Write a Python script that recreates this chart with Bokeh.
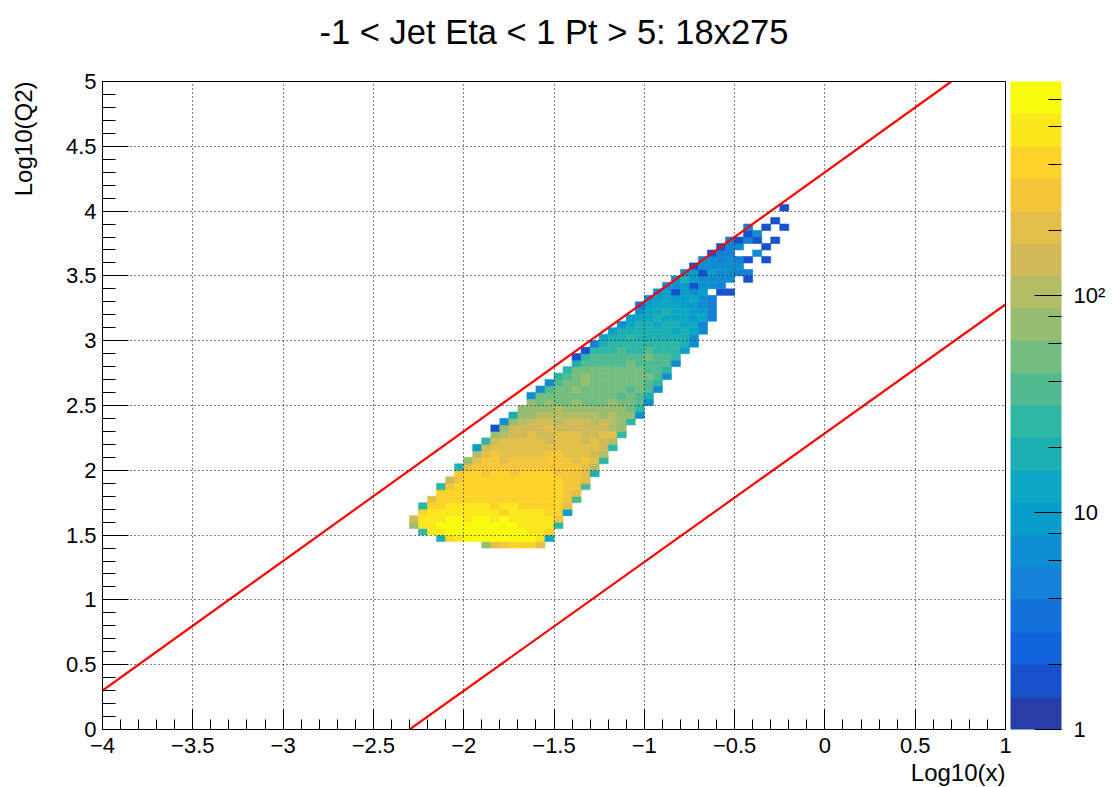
import numpy as np
from bokeh.plotting import figure
from bokeh.models import (Range1d, LogColorMapper, ColorBar, LogTicker,
                          SingleIntervalTicker, Title, ColumnDataSource)
from bokeh.embed import file_html
from bokeh.resources import INLINE

# ---------------- texts ----------------
TITLE = "-1 < Jet Eta < 1 Pt > 5: 18x275"
X_LABEL = "Log10(x)"
Y_LABEL = "Log10(Q2)"

# ---------------- histogram binning ----------------
X_MIN, X_MAX = -4.0, 1.0
Y_MIN, Y_MAX = 0.0, 5.0
BIN_W = 0.05
BIN_H = 0.05
Z_MIN, Z_MAX = 1.0, 970.0

# representative bin content for each of the 20 colour levels (code 0..j)
LEVEL_COUNTS = [1.0, 1.7, 2.4, 3.3, 4.7, 6.6, 9.3, 13, 19, 26,
                37, 52, 73, 103, 146, 206, 290, 409, 577, 814]

# one entry per histogram row: y-bin index, first filled x-bin index,
# and the colour-level codes of consecutive x-bins ('.' = empty bin)
ROW_BIN = [28, 29, 30, 31, 32, 33, 34, 35, 36, 37, 38, 39, 40, 41, 42, 43, 44,
           45, 46, 47, 48, 49, 50, 51, 52, 53, 54, 55, 56, 57, 58, 59, 60, 61,
           62, 63, 64, 65, 66, 67, 68, 69, 70, 71, 72, 73, 74, 75, 76, 77, 78, 80]
ROW_START = [42, 37, 35, 34, 34, 35, 35, 36, 37, 37, 38, 39, 39, 40, 41, 41, 42,
             43, 43, 44, 45, 46, 47, 47, 48, 49, 50, 51, 52, 52, 53, 54, 55, 56,
             57, 58, 59, 59, 60, 61, 62, 63, 64, 65, 66, 67, 68, 69, 71, 71, 74, 75]
ROW_CODES = [
    "cfghhhf",
    "8hijjjjjjjji7",
    "9iijjjjjjjjjiih",
    "ciijjjjjjjjjiiii9",
    "eiiijjijjijiiiiig",
    "hiiiiiiiihiiiihh6",
    "9hhiiiiihiihhhhhf",
    "fhhhhhhhhhhhhhhga",
    "hhhhhhhhhhhhhhgf",
    "9ghhhhhhhhhhhhgga",
    "eghhhhhhhhhhhggf",
    "ghhghhghhhhgggf8",
    "8fggggggggggggfd",
    "cfggfgggggggfgf9",
    "dfgfffffggfffed",
    "6effffffffffffe9",
    "9efffffefffefed",
    "cdeefeefffeeff9",
    "1ceeeefeeeeeedc",
    "5cdeeedeeededc9",
    "8ccdddddddcdcc5",
    "ccccdcccccccb9",
    "cbcbbcbbbcbba5",
    "5bbbbbbbbbaba8",
    "5abbcbbbbbaba5",
    "5abbcbbbbbba9",
    "9abcbbbbbbba5",
    "9bbbbbbbbaa9",
    "8aaaaabaaaa5",
    "19aaaaaabaa9",
    "1999a99a9996",
    "489999999985",
    "78898888885",
    "68888887875",
    "5788788774",
    "6778777674",
    "577877664",
    "367776654",
    "56766754",
    "561656.11",
    "5561554",
    "5865555.1",
    "56165544",
    "155555",
    "554541.1",
    "144..5",
    "145..1",
    "4141.1",
    "15",
    "4.1.1",
    "1",
    "1",
]

# kinematic limit lines (y = 1 and y = 0.01)
UPPER_X = [-4.0, 0.70]
UPPER_Y = [0.30, 5.0]
LOWER_X = [-2.30, 1.0]
LOWER_Y = [0.0, 3.28]

X_TICK_LABELS = {-4: "\u22124", -3.5: "\u22123.5", -3: "\u22123", -2.5: "\u22122.5",
                 -2: "\u22122", -1.5: "\u22121.5", -1: "\u22121", -0.5: "\u22120.5",
                 0: "0", 0.5: "0.5", 1: "1"}
Z_TICK_LABELS = {1: "1", 10: "10", 100: "10\u00b2"}

# ---------------- ROOT kBird palette, 20 contour levels ----------------
BIRD_STOPS = [0.0, 0.125, 0.25, 0.375, 0.5, 0.625, 0.75, 0.875, 1.0]
BIRD_R = [0.2082, 0.0592, 0.0780, 0.0232, 0.1802, 0.5301, 0.8186, 0.9956, 0.9764]
BIRD_G = [0.1664, 0.3599, 0.5041, 0.6419, 0.7178, 0.7492, 0.7328, 0.7862, 0.9832]
BIRD_B = [0.5293, 0.8684, 0.8385, 0.7914, 0.6425, 0.4662, 0.3499, 0.1968, 0.0539]


def bird(f):
    r = np.interp(f, BIRD_STOPS, BIRD_R)
    g = np.interp(f, BIRD_STOPS, BIRD_G)
    b = np.interp(f, BIRD_STOPS, BIRD_B)
    return "#%02x%02x%02x" % (int(round(r * 255)), int(round(g * 255)), int(round(b * 255)))


N_LEVELS = 20
PALETTE = [bird(int((k + 0.99) * 255 / N_LEVELS) / 254.0) for k in range(N_LEVELS)]

# ---------------- build cells ----------------
left, right, bottom, top, z = [], [], [], [], []
for jb, start, codes in zip(ROW_BIN, ROW_START, ROW_CODES):
    for k, ch in enumerate(codes):
        if ch == ".":
            continue
        ib = start + k
        left.append(X_MIN + ib * BIN_W)
        right.append(X_MIN + (ib + 1) * BIN_W)
        bottom.append(Y_MIN + jb * BIN_H)
        top.append(Y_MIN + (jb + 1) * BIN_H)
        z.append(LEVEL_COUNTS[int(ch, 20)])

src = ColumnDataSource(dict(left=left, right=right, bottom=bottom, top=top, z=z))

FONT = "Liberation Sans"

p = figure(frame_width=903, frame_height=648, title=None,
           x_range=Range1d(X_MIN, X_MAX), y_range=Range1d(Y_MIN, Y_MAX),
           output_backend="svg", toolbar_location=None,
           min_border_left=102, min_border_right=107,
           min_border_top=81, min_border_bottom=58,
           background_fill_color="white", border_fill_color="white",
           outline_line_color="black", outline_line_width=1)

mapper = LogColorMapper(palette=PALETTE, low=Z_MIN, high=Z_MAX)

p.quad(left="left", right="right", bottom="bottom", top="top", source=src,
       fill_color={"field": "z", "transform": mapper},
       line_color={"field": "z", "transform": mapper}, line_width=0.6)

p.line(UPPER_X, UPPER_Y, line_color="#ff0000", line_width=2.2)
p.line(LOWER_X, LOWER_Y, line_color="#ff0000", line_width=2.2)

# axes
for ax, tin, tmin in ((p.xaxis, 20, 10), (p.yaxis, 26, 13)):
    ax.ticker = SingleIntervalTicker(interval=0.5, num_minor_ticks=5)
    ax.major_tick_in = tin
    ax.major_tick_out = 0
    ax.minor_tick_in = tmin
    ax.minor_tick_out = 0
    ax.axis_line_color = "black"
    ax.major_tick_line_color = "black"
    ax.minor_tick_line_color = "black"
    ax.major_label_text_font = FONT
    ax.major_label_text_font_size = "22px"
    ax.major_label_text_color = "black"
p.xaxis.major_label_overrides = X_TICK_LABELS
p.xaxis.major_label_standoff = 8
p.yaxis.major_label_standoff = 6

p.xgrid.ticker = SingleIntervalTicker(interval=0.5)
p.ygrid.ticker = SingleIntervalTicker(interval=0.5)
p.grid.grid_line_color = "black"
p.grid.grid_line_dash = "1 3"
p.grid.grid_line_width = 1
p.grid.level = "overlay"

# --- title: a thin spacer next to the frame, then the title text ---
p.add_layout(Title(text=" ", text_font_size="1px", standoff=28), "above")
p.add_layout(Title(text=TITLE, align="center", vertical_align="bottom", standoff=0,
                   text_font=FONT, text_font_size="34.5px", text_font_style="normal",
                   text_color="black"), "above")

# --- axis titles ---
p.add_layout(Title(text=X_LABEL, align="right", text_font=FONT, text_font_size="24px",
                   text_font_style="normal", text_color="black", standoff=2), "below")
p.add_layout(Title(text=" ", text_font_size="1px", standoff=23), "left")
p.add_layout(Title(text=Y_LABEL, align="right", standoff=0, text_font=FONT,
                   text_font_size="24px", text_font_style="normal",
                   text_color="black"), "left")

cb = ColorBar(color_mapper=mapper, ticker=LogTicker(), width=51, height=648,
              location=(5, 0), padding=0, margin=5, label_standoff=12,
              major_tick_in=27, major_tick_out=0, minor_tick_in=13, minor_tick_out=0,
              major_tick_line_color="black", minor_tick_line_color="black",
              major_label_text_font=FONT, major_label_text_font_size="22px",
              major_label_text_color="black",
              major_label_overrides=Z_TICK_LABELS,
              bar_line_color=None, border_line_color=None)
p.add_layout(cb, "right")

open("out.html", "w").write(file_html(p, INLINE))
